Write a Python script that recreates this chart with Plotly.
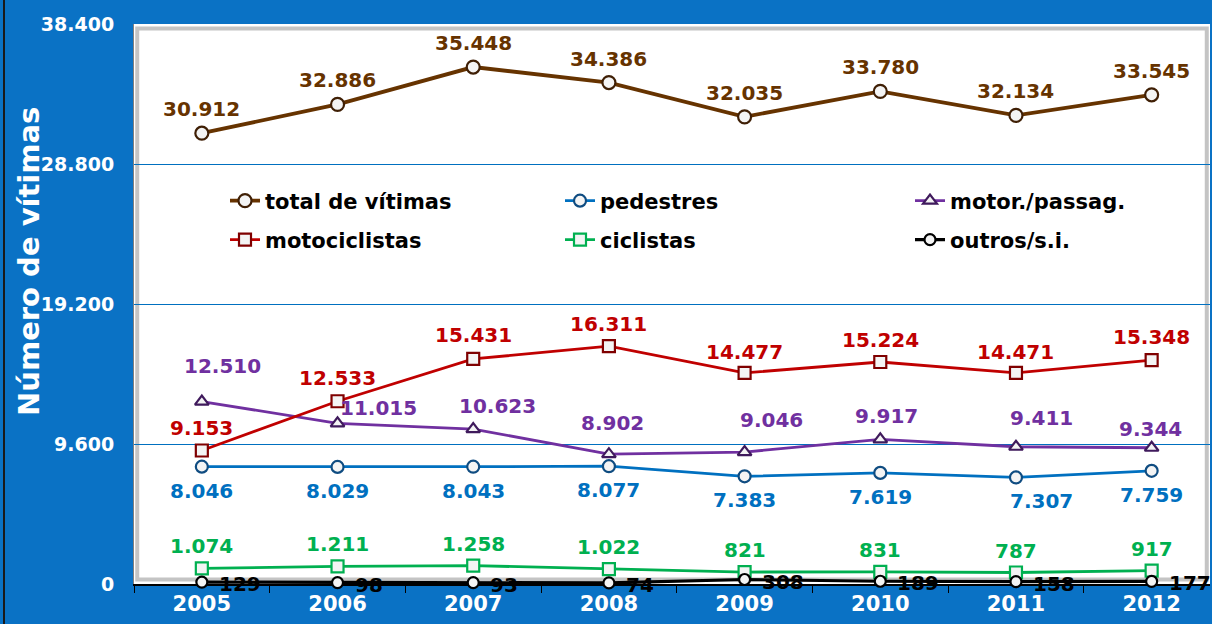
import plotly.graph_objects as go

years = ["2005", "2006", "2007", "2008", "2009", "2010", "2011", "2012"]

total = [30912, 32886, 35448, 34386, 32035, 33780, 32134, 33545]
pedestres = [8046, 8029, 8043, 8077, 7383, 7619, 7307, 7759]
motor_passag = [12510, 11015, 10623, 8902, 9046, 9917, 9411, 9344]
motociclistas = [9153, 12533, 15431, 16311, 14477, 15224, 14471, 15348]
ciclistas = [1074, 1211, 1258, 1022, 821, 831, 787, 917]
outros = [129, 98, 93, 74, 308, 189, 158, 177]

y_ticks = [0, 9600, 19200, 28800, 38400]

FONT = "DejaVu Sans"

def fmt(v):
    return f"{v:,}".replace(",", ".")

series = [
    dict(name="total de vítimas", y=total, color="#663300", symbol="circle", mline="#3F1F05",
         size=13, width=3.8, legend="legend", lcolor="#663300",
         xs=[0] * 8, ys=[24] * 8, anchor="center", lx=225, ly=201),
    dict(name="pedestres", y=pedestres, color="#0070C0", symbol="circle", mline="#0F4C81",
         size=12, width=2.8, legend="legend2", lcolor="#0070C0",
         xs=[0, 0, 0, 0, 0, 0, 26, 0], ys=[-24] * 8, anchor="center", lx=560, ly=201),
    dict(name="motor./passag.", y=motor_passag, color="#7030A0", symbol="triangle-up", mline="#3F1A5C",
         size=12, width=2.8, legend="legend3", lcolor="#7030A0",
         xs=[21, 41, 24, 4, 27, 6, 26, -1], ys=[36, 15, 23, 31, 32, 23, 29, 19], anchor="center",
         lx=910, ly=201),
    dict(name="motociclistas", y=motociclistas, color="#C00000", symbol="square", mline="#7F0000",
         size=12, width=2.8, legend="legend4", lcolor="#C00000",
         xs=[0] * 8, ys=[23, 23, 24, 22, 21, 22, 21, 23], anchor="center", lx=225, ly=240),
    dict(name="ciclistas", y=ciclistas, color="#00B050", symbol="square", mline="#00B050",
         size=12, width=2.8, legend="legend5", lcolor="#00B050",
         xs=[0] * 8, ys=[22] * 8, anchor="center", lx=560, ly=240),
    dict(name="outros/s.i.", y=outros, color="#000000", symbol="circle", mline="#000000",
         size=11, width=3.2, legend="legend6", lcolor="#000000",
         xs=[15] * 8, ys=[-2] * 8, anchor="left", lx=910, ly=240),
]

L, R, T, B = 134, 2, 24, 40
PW, PH = 1212 - L - R, 624 - T - B

fig = go.Figure()
annotations = []
legends = {}
for s in series:
    fig.add_trace(go.Scatter(
        x=years, y=s["y"], name=s["name"], mode="lines+markers",
        line=dict(color=s["color"], width=s["width"]),
        marker=dict(symbol=s["symbol"], size=s["size"], color="#F4F4F4",
                    line=dict(color=s["mline"], width=2.2)),
        cliponaxis=False, legend=s["legend"], hoverinfo="skip",
    ))
    legends[s["legend"]] = dict(
        orientation="h", xanchor="left", yanchor="middle",
        x=(s["lx"] - L) / PW, y=(T + PH - s["ly"]) / PH,
        bgcolor="rgba(0,0,0,0)",
        font=dict(family=FONT, size=21, color="black", weight="bold"),
    )
    for i, (yi, dx, dy) in enumerate(zip(s["y"], s["xs"], s["ys"])):
        annotations.append(dict(
            x=i, y=yi, xref="x", yref="y", text=fmt(yi), showarrow=False,
            xanchor=s["anchor"], yanchor="middle", xshift=dx, yshift=dy,
            font=dict(family=FONT, size=20, color=s["lcolor"], weight="bold"),
        ))

annotations.append(dict(
    text="Número de vítimas", xref="paper", yref="paper",
    x=(29 - L) / PW, y=(T + PH - 262) / PH, showarrow=False, textangle=-90,
    xanchor="center", yanchor="middle",
    font=dict(family=FONT, size=29, color="white", weight="bold"),
))

fig.update_layout(
    width=1212, height=624,
    margin=dict(l=L, r=R, t=T, b=B),
    paper_bgcolor="#0A72C5",
    plot_bgcolor="white",
    separators=",.",
    showlegend=True,
    annotations=annotations,
    xaxis=dict(
        type="category", range=[-0.5, 7.43], showgrid=False,
        showline=True, linecolor="black", linewidth=2, layer="below traces",
        ticks="outside", ticklen=7, tickcolor="black", tickson="boundaries",
        tickfont=dict(family=FONT, size=21, color="white", weight="bold"),
        ticklabelstandoff=0, fixedrange=True,
    ),
    yaxis=dict(
        range=[0, 38400], tickvals=y_ticks, tickformat=",d",
        showgrid=True, gridcolor="#0070C0", gridwidth=1, zeroline=False,
        showline=True, linecolor="#808080", linewidth=1,
        tickfont=dict(family=FONT, size=19, color="white", weight="bold"),
        ticklabelstandoff=15, layer="below traces", fixedrange=True,
    ),
    shapes=[
        dict(type="rect", xref="paper", yref="paper", x0=0.003, x1=0.997, y0=0.008, y1=0.992,
             line=dict(color="#C4C4C4", width=4), layer="below"),
        dict(type="line", xref="paper", yref="paper", x0=(4 - L) / PW, x1=(4 - L) / PW,
             y0=-B / PH, y1=(T + PH) / PH, line=dict(color="#1A1A1A", width=2)),
    ],
)
fig.update_layout(**legends)

fig.write_html("out.html", config={"displayModeBar": False},
               post_script="document.body.style.margin='0';")
